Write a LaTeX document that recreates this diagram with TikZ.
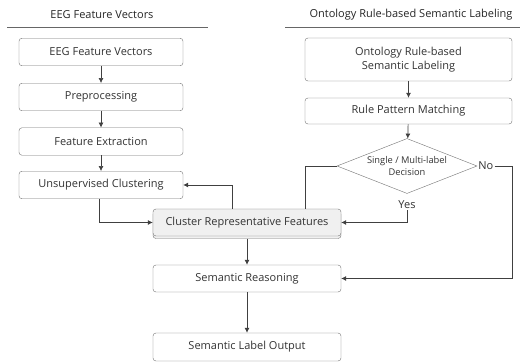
\documentclass[tikz,border=0pt]{standalone}
\usepackage{fontspec}
\setmainfont{Open Sans}
\usetikzlibrary{arrows.meta,shapes.geometric,shadows}
\begin{document}
\begin{tikzpicture}[x=1pt,y=-1pt,
    box/.style={draw=black!55, rounded corners=3pt, fill=white, text=black!80,
      font=\fontsize{11}{13.5}\selectfont, align=center, inner sep=2pt},
    leftbox/.style={box, minimum width=164pt, minimum height=27.5pt},
    rightbox/.style={box, minimum width=207pt},
    midbox/.style={box, minimum width=188pt, minimum height=27pt},
    decide/.style={draw=black!55, diamond, aspect=2.6, minimum width=140pt, minimum height=55pt,
      inner sep=0pt, text=black!80, align=center, font=\fontsize{9.3}{12}\selectfont},
    header/.style={text=black!85, font=\fontsize{11}{13.5}\selectfont},
    tag/.style={text=black!80, font=\fontsize{11}{13.5}\selectfont, inner sep=1pt},
    arr/.style={draw=black!75, line width=0.7pt, -{Latex[length=5pt,width=5pt]}},
    ln/.style={draw=black!75, line width=0.7pt}]
    \path[fill=white, use as bounding box] (0,0) rectangle (520,363);

    \node[header] (lefthead) at (102,15) {EEG Feature Vectors};
    \node[header] (righthead) at (411,15) {Ontology Rule-based Semantic Labeling};
    \coordinate (la) at (7,27);
    \coordinate (lb) at (208,27);
    \coordinate (ra) at (285,27);
    \coordinate (rb) at (520,27);
    \path[ln, draw=black!60] (la) -- (lb);
    \path[ln, draw=black!60] (ra) -- (rb);

    \node[leftbox] (eeg) at (101,52) {EEG Feature Vectors};
    \node[leftbox] (pre) at (101,97) {Preprocessing};
    \node[leftbox] (fe) at (101,141.5) {Feature Extraction};
    \node[leftbox] (uc) at (101,185) {Unsupervised Clustering};

    \node[rightbox, minimum height=43pt] (ont) at (408.5,59.5) {Ontology Rule-based\\Semantic Labeling};
    \node[rightbox, minimum height=26pt] (rpm) at (408.5,111) {Rule Pattern Matching};
    \node[decide] (dec) at (407,166) {Single / Multi-label\\Decision};
    \node[tag, anchor=west] (no) at (dec.east) {No};
    \node[tag] (yes) at (407,205) {Yes};
    \coordinate (nocorner) at (512,166);

    \node[midbox, fill=black!6, copy shadow={shadow xshift=0pt, shadow yshift=-2.5pt}] (crf) at (247,222.5) {Cluster Representative Features};
    \node[midbox] (sr) at (247,278.5) {Semantic Reasoning};
    \node[midbox, minimum height=28pt] (slo) at (247,347) {Semantic Label Output};

    \path[arr] (eeg) -- (pre);
    \path[arr] (pre) -- (fe);
    \path[arr] (fe) -- (uc);
    \path[arr] (ont) -- (rpm);
    \path[arr] (rpm) -- (dec);
    \path[arr] ([xshift=-2pt]uc.south) |- (crf.west);
    \path[arr] ([xshift=-15pt]crf.north) |- (uc.east);
    \path[ln] (dec.west) -| ([xshift=58pt]crf.north);
    \path[arr] (yes.south) |- (crf.east);
    \path[arr] (no.east) -- (nocorner) |- (sr.east);
    \path[arr] ([yshift=-2.5pt]crf.south) -- (sr.north);
    \path[arr] (sr) -- (slo);
\end{tikzpicture}
\end{document}
